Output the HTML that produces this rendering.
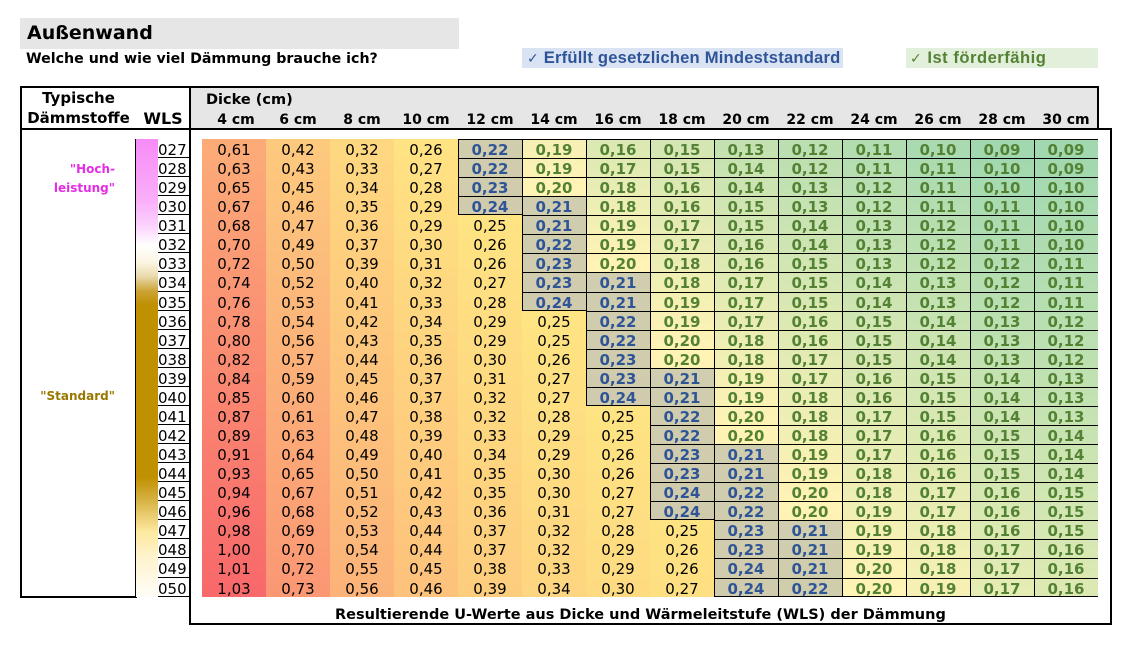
<!DOCTYPE html>
<html><head><meta charset="utf-8">
<style>
*{margin:0;padding:0;box-sizing:border-box}
body{width:1140px;height:646px;background:#fff;position:relative;overflow:hidden;font-family:"DejaVu Sans","Liberation Sans",sans-serif;color:#000}
.a{position:absolute}
.ln{position:absolute;background:#000}
.t{position:absolute;white-space:nowrap;line-height:1}
.bd{font-weight:bold}
.hc{position:absolute;top:113px;width:64px;text-align:center;font-weight:bold;font-size:14px;line-height:1;white-space:nowrap}
.col{position:absolute;top:0;width:64px;height:458px}
.grid{position:absolute;display:grid;grid-template-rows:repeat(7,19px) 20px repeat(14,19px) 20px 19px}
.dg{left:202px;top:139px;width:896px;height:458px;grid-template-columns:repeat(14,64px)}
.dg>div{text-align:center;line-height:22px;font-size:15px;white-space:nowrap}
.b{font-weight:bold;color:#2f5597;background-color:rgba(162,178,216,0.5);box-shadow:inset 1px 1px 0 #000}
.g{font-weight:bold;color:#548235;background-color:rgba(255,255,255,0.4);box-shadow:inset 1px 1px 0 #000}
.e{box-shadow:inset 1px 1px 0 #000,inset 0 -1px 0 #000}
.wg{left:158px;top:139px;width:31px;height:458px;grid-template-columns:31px}
.wg>div{text-align:right;padding-right:3px;line-height:22px;font-size:15px;box-shadow:inset 0 -1px 0 #000;background:#fff}
</style></head><body>

<!-- title -->
<div class="a" style="left:20px;top:18px;width:439px;height:31px;background:#e7e6e6"></div>
<div class="t bd" style="left:27px;top:24px;font-size:19px">Außenwand</div>
<div class="t bd" style="left:26px;top:52px;font-size:14.2px">Welche und wie viel Dämmung brauche ich?</div>

<!-- legends -->
<div class="a" style="left:522px;top:48px;width:321px;height:20px;background:#dae3f3"></div>
<div class="t" style="left:527px;top:50px;font-family:'Liberation Sans','DejaVu Sans',sans-serif;font-weight:bold;font-size:16.6px;color:#2f5597;letter-spacing:0.2px"><span style="font-family:'DejaVu Sans',sans-serif;font-size:14px;font-weight:bold">✓</span> Erfüllt gesetzlichen Mindeststandard</div>
<div class="a" style="left:906px;top:48px;width:192px;height:20px;background:#e2efda"></div>
<div class="t" style="left:910px;top:50px;font-family:'Liberation Sans','DejaVu Sans',sans-serif;font-weight:bold;font-size:16.6px;color:#548235;letter-spacing:0.5px"><span style="font-family:'DejaVu Sans',sans-serif;font-size:14px;font-weight:bold">✓</span> Ist förderfähig</div>

<!-- header backgrounds and lines -->
<div class="a" style="left:191px;top:88px;width:906px;height:40px;background:#e7e6e6"></div>
<div class="ln" style="left:20px;top:86px;width:1079px;height:2px"></div>
<div class="ln" style="left:20px;top:86px;width:2px;height:512px"></div>
<div class="ln" style="left:1097px;top:86px;width:2px;height:43px"></div>
<div class="ln" style="left:20px;top:128px;width:1092px;height:2px"></div>
<div class="ln" style="left:189px;top:86px;width:2px;height:539px"></div>
<div class="ln" style="left:1110px;top:128px;width:2px;height:497px"></div>
<div class="ln" style="left:189px;top:623px;width:923px;height:2px"></div>
<div class="ln" style="left:20px;top:596px;width:117px;height:2px"></div>

<!-- header text -->
<div class="t bd" style="left:22px;width:113px;text-align:center;top:91.3px;font-size:15px">Typische</div>
<div class="t bd" style="left:22px;width:113px;text-align:center;top:111.3px;font-size:15px">Dämmstoffe</div>
<div class="t bd" style="left:136px;width:54px;text-align:center;top:110.5px;font-size:16px">WLS</div>
<div class="t bd" style="left:206px;top:92.7px;font-size:14.5px">Dicke (cm)</div>
<div class="hc" style="left:204px">4 cm</div>
<div class="hc" style="left:266px">6 cm</div>
<div class="hc" style="left:330px">8 cm</div>
<div class="hc" style="left:394px">10 cm</div>
<div class="hc" style="left:458px">12 cm</div>
<div class="hc" style="left:522px">14 cm</div>
<div class="hc" style="left:586px">16 cm</div>
<div class="hc" style="left:650px">18 cm</div>
<div class="hc" style="left:714px">20 cm</div>
<div class="hc" style="left:778px">22 cm</div>
<div class="hc" style="left:842px">24 cm</div>
<div class="hc" style="left:906px">26 cm</div>
<div class="hc" style="left:970px">28 cm</div>
<div class="hc" style="left:1034px">30 cm</div>

<!-- left labels -->
<div class="t bd" style="right:1025px;top:162.8px;font-size:12px;color:#e52de5">"Hoch-</div>
<div class="t bd" style="right:1025px;top:181.8px;font-size:12px;color:#e52de5">leistung"</div>
<div class="t bd" style="right:1025px;top:389.8px;font-size:12px;color:#9a7800">"Standard"</div>

<!-- strip -->
<div class="a" style="left:135px;top:139px;width:23px;height:458px;border-left:1px solid #000;background:linear-gradient(to bottom,#f78bf7 0px,#f9aef9 61px,#fcd0fc 86px,#fff 106px,#fbf4e0 124px,#eadcb0 137px,#cca437 152px,#bf9000 166px,#bf9000 338px,#d5b040 360px,#eccf75 378px,#fde9a0 393px,#fff4d0 420px,#fffdf8 458px)"></div>

<!-- WLS -->
<div class="grid wg">
<div>027</div><div>028</div><div>029</div><div>030</div><div>031</div><div>032</div><div>033</div><div>034</div><div>035</div><div>036</div><div>037</div><div>038</div><div>039</div><div>040</div><div>041</div><div>042</div><div>043</div><div>044</div><div>045</div><div>046</div><div>047</div><div>048</div><div>049</div><div>050</div>
</div>

<!-- data column backgrounds -->
<div class="a" style="left:202px;top:139px;width:896px;height:458px">
<div class="col" style="left:0;background:linear-gradient(#fcab78 9px,#f8696b 449px)"></div>
<div class="col" style="left:64px;background:linear-gradient(#fdc97d 9px,#fb9874 449px)"></div>
<div class="col" style="left:128px;background:linear-gradient(#fed880 9px,#fcb379 449px)"></div>
<div class="col" style="left:192px;background:linear-gradient(#ffe282 9px,#fdc27c 449px)"></div>
<div class="col" style="left:256px;background:linear-gradient(#ffe883 9px,#fdcd7e 449px)"></div>
<div class="col" style="left:320px;background:linear-gradient(#f1e783 9px,#ffeb84 48px,#fed580 449px)"></div>
<div class="col" style="left:384px;background:linear-gradient(#c6db81 9px,#ffeb84 124px,#fedb81 449px)"></div>
<div class="col" style="left:448px;background:linear-gradient(#b8d680 9px,#ffeb84 210px,#fee082 449px)"></div>
<div class="col" style="left:512px;background:linear-gradient(#9cce7e 9px,#ffeb84 286px,#ffe583 449px)"></div>
<div class="col" style="left:576px;background:linear-gradient(#8eca7e 9px,#ffeb84 362px,#ffe883 449px)"></div>
<div class="col" style="left:640px;background:linear-gradient(#7fc67d 9px,#ffeb84 449px)"></div>
<div class="col" style="left:704px;background:linear-gradient(#71c27c 9px,#f1e783 449px)"></div>
<div class="col" style="left:768px;background:linear-gradient(#63be7b 9px,#d4df82 449px)"></div>
<div class="col" style="left:832px;background:linear-gradient(#63be7b 9px,#c6db81 449px)"></div>
</div>

<!-- data grid -->
<div class="grid dg">
<div>0,61</div><div>0,42</div><div>0,32</div><div>0,26</div><div class="b">0,22</div><div class="g">0,19</div><div class="g">0,16</div><div class="g">0,15</div><div class="g">0,13</div><div class="g">0,12</div><div class="g">0,11</div><div class="g">0,10</div><div class="g">0,09</div><div class="g">0,09</div>
<div>0,63</div><div>0,43</div><div>0,33</div><div>0,27</div><div class="b">0,22</div><div class="g">0,19</div><div class="g">0,17</div><div class="g">0,15</div><div class="g">0,14</div><div class="g">0,12</div><div class="g">0,11</div><div class="g">0,11</div><div class="g">0,10</div><div class="g">0,09</div>
<div>0,65</div><div>0,45</div><div>0,34</div><div>0,28</div><div class="b">0,23</div><div class="g">0,20</div><div class="g">0,18</div><div class="g">0,16</div><div class="g">0,14</div><div class="g">0,13</div><div class="g">0,12</div><div class="g">0,11</div><div class="g">0,10</div><div class="g">0,10</div>
<div>0,67</div><div>0,46</div><div>0,35</div><div>0,29</div><div class="b e">0,24</div><div class="b">0,21</div><div class="g">0,18</div><div class="g">0,16</div><div class="g">0,15</div><div class="g">0,13</div><div class="g">0,12</div><div class="g">0,11</div><div class="g">0,11</div><div class="g">0,10</div>
<div>0,68</div><div>0,47</div><div>0,36</div><div>0,29</div><div>0,25</div><div class="b">0,21</div><div class="g">0,19</div><div class="g">0,17</div><div class="g">0,15</div><div class="g">0,14</div><div class="g">0,13</div><div class="g">0,12</div><div class="g">0,11</div><div class="g">0,10</div>
<div>0,70</div><div>0,49</div><div>0,37</div><div>0,30</div><div>0,26</div><div class="b">0,22</div><div class="g">0,19</div><div class="g">0,17</div><div class="g">0,16</div><div class="g">0,14</div><div class="g">0,13</div><div class="g">0,12</div><div class="g">0,11</div><div class="g">0,10</div>
<div>0,72</div><div>0,50</div><div>0,39</div><div>0,31</div><div>0,26</div><div class="b">0,23</div><div class="g">0,20</div><div class="g">0,18</div><div class="g">0,16</div><div class="g">0,15</div><div class="g">0,13</div><div class="g">0,12</div><div class="g">0,12</div><div class="g">0,11</div>
<div>0,74</div><div>0,52</div><div>0,40</div><div>0,32</div><div>0,27</div><div class="b">0,23</div><div class="b">0,21</div><div class="g">0,18</div><div class="g">0,17</div><div class="g">0,15</div><div class="g">0,14</div><div class="g">0,13</div><div class="g">0,12</div><div class="g">0,11</div>
<div>0,76</div><div>0,53</div><div>0,41</div><div>0,33</div><div>0,28</div><div class="b e">0,24</div><div class="b">0,21</div><div class="g">0,19</div><div class="g">0,17</div><div class="g">0,15</div><div class="g">0,14</div><div class="g">0,13</div><div class="g">0,12</div><div class="g">0,11</div>
<div>0,78</div><div>0,54</div><div>0,42</div><div>0,34</div><div>0,29</div><div>0,25</div><div class="b">0,22</div><div class="g">0,19</div><div class="g">0,17</div><div class="g">0,16</div><div class="g">0,15</div><div class="g">0,14</div><div class="g">0,13</div><div class="g">0,12</div>
<div>0,80</div><div>0,56</div><div>0,43</div><div>0,35</div><div>0,29</div><div>0,25</div><div class="b">0,22</div><div class="g">0,20</div><div class="g">0,18</div><div class="g">0,16</div><div class="g">0,15</div><div class="g">0,14</div><div class="g">0,13</div><div class="g">0,12</div>
<div>0,82</div><div>0,57</div><div>0,44</div><div>0,36</div><div>0,30</div><div>0,26</div><div class="b">0,23</div><div class="g">0,20</div><div class="g">0,18</div><div class="g">0,17</div><div class="g">0,15</div><div class="g">0,14</div><div class="g">0,13</div><div class="g">0,12</div>
<div>0,84</div><div>0,59</div><div>0,45</div><div>0,37</div><div>0,31</div><div>0,27</div><div class="b">0,23</div><div class="b">0,21</div><div class="g">0,19</div><div class="g">0,17</div><div class="g">0,16</div><div class="g">0,15</div><div class="g">0,14</div><div class="g">0,13</div>
<div>0,85</div><div>0,60</div><div>0,46</div><div>0,37</div><div>0,32</div><div>0,27</div><div class="b e">0,24</div><div class="b">0,21</div><div class="g">0,19</div><div class="g">0,18</div><div class="g">0,16</div><div class="g">0,15</div><div class="g">0,14</div><div class="g">0,13</div>
<div>0,87</div><div>0,61</div><div>0,47</div><div>0,38</div><div>0,32</div><div>0,28</div><div>0,25</div><div class="b">0,22</div><div class="g">0,20</div><div class="g">0,18</div><div class="g">0,17</div><div class="g">0,15</div><div class="g">0,14</div><div class="g">0,13</div>
<div>0,89</div><div>0,63</div><div>0,48</div><div>0,39</div><div>0,33</div><div>0,29</div><div>0,25</div><div class="b">0,22</div><div class="g">0,20</div><div class="g">0,18</div><div class="g">0,17</div><div class="g">0,16</div><div class="g">0,15</div><div class="g">0,14</div>
<div>0,91</div><div>0,64</div><div>0,49</div><div>0,40</div><div>0,34</div><div>0,29</div><div>0,26</div><div class="b">0,23</div><div class="b">0,21</div><div class="g">0,19</div><div class="g">0,17</div><div class="g">0,16</div><div class="g">0,15</div><div class="g">0,14</div>
<div>0,93</div><div>0,65</div><div>0,50</div><div>0,41</div><div>0,35</div><div>0,30</div><div>0,26</div><div class="b">0,23</div><div class="b">0,21</div><div class="g">0,19</div><div class="g">0,18</div><div class="g">0,16</div><div class="g">0,15</div><div class="g">0,14</div>
<div>0,94</div><div>0,67</div><div>0,51</div><div>0,42</div><div>0,35</div><div>0,30</div><div>0,27</div><div class="b">0,24</div><div class="b">0,22</div><div class="g">0,20</div><div class="g">0,18</div><div class="g">0,17</div><div class="g">0,16</div><div class="g">0,15</div>
<div>0,96</div><div>0,68</div><div>0,52</div><div>0,43</div><div>0,36</div><div>0,31</div><div>0,27</div><div class="b e">0,24</div><div class="b">0,22</div><div class="g">0,20</div><div class="g">0,19</div><div class="g">0,17</div><div class="g">0,16</div><div class="g">0,15</div>
<div>0,98</div><div>0,69</div><div>0,53</div><div>0,44</div><div>0,37</div><div>0,32</div><div>0,28</div><div>0,25</div><div class="b">0,23</div><div class="b">0,21</div><div class="g">0,19</div><div class="g">0,18</div><div class="g">0,16</div><div class="g">0,15</div>
<div>1,00</div><div>0,70</div><div>0,54</div><div>0,44</div><div>0,37</div><div>0,32</div><div>0,29</div><div>0,26</div><div class="b">0,23</div><div class="b">0,21</div><div class="g">0,19</div><div class="g">0,18</div><div class="g">0,17</div><div class="g">0,16</div>
<div>1,01</div><div>0,72</div><div>0,55</div><div>0,45</div><div>0,38</div><div>0,33</div><div>0,29</div><div>0,26</div><div class="b">0,24</div><div class="b">0,21</div><div class="g">0,20</div><div class="g">0,18</div><div class="g">0,17</div><div class="g">0,16</div>
<div>1,03</div><div>0,73</div><div>0,56</div><div>0,46</div><div>0,39</div><div>0,34</div><div>0,30</div><div>0,27</div><div class="b e">0,24</div><div class="b e">0,22</div><div class="g e">0,20</div><div class="g e">0,19</div><div class="g e">0,17</div><div class="g e">0,16</div>
</div>

<!-- footer -->
<div class="t bd" style="left:335px;top:607.7px;font-size:14.5px">Resultierende U-Werte aus Dicke und Wärmeleitstufe (WLS) der Dämmung</div>

</body></html>
